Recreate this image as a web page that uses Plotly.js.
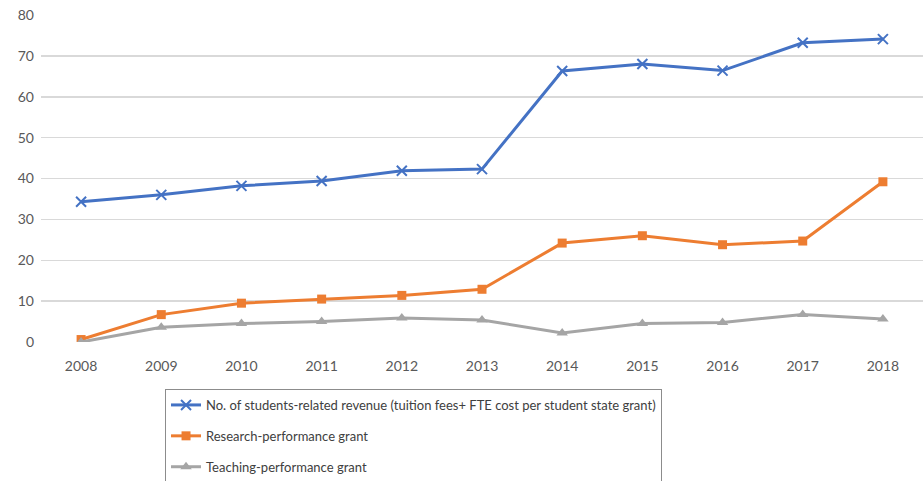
<!DOCTYPE html>
<html><head><meta charset="utf-8">
<script src="https://cdn.plot.ly/plotly-3.0.1.min.js"></script>
<style>html,body{margin:0;padding:0;background:#fff}#chart{width:924px;height:481px}</style>
</head><body><div id="chart"></div>
<script>
const years = ['2008','2009','2010','2011','2012','2013','2014','2015','2016','2017','2018'];
const studentsRevenue = [34.3, 36.0, 38.2, 39.4, 41.9, 42.3, 66.3, 68.0, 66.4, 73.2, 74.1];
const researchGrant = [0.6, 6.7, 9.5, 10.5, 11.4, 12.9, 24.2, 26.0, 23.8, 24.7, 39.2];
const teachingGrant = [0.0, 3.6, 4.5, 5.0, 5.9, 5.4, 2.2, 4.5, 4.8, 6.7, 5.6];
const seriesNames = [
  'No. of students-related revenue (tuition fees+ FTE cost per student state grant)',
  'Research-performance grant',
  'Teaching-performance grant'
];

const traces = [
  {x: years, y: studentsRevenue, name: seriesNames[0], legendgroup: 'a', type: 'scatter', mode: 'lines+markers',
   line: {color: '#4472C4', width: 3}, marker: {symbol: 'x-thin-open', size: 10, line: {color: '#4472C4', width: 2}}},
  {x: years, y: researchGrant, name: seriesNames[1], legendgroup: 'b', type: 'scatter', mode: 'lines+markers',
   line: {color: '#ED7D31', width: 3}, marker: {symbol: 'square', size: 9, color: '#ED7D31'}},
  {x: years, y: teachingGrant, name: seriesNames[2], legendgroup: 'c', type: 'scatter', mode: 'lines+markers',
   line: {color: '#A5A5A5', width: 3}, marker: {symbol: 'triangle-up', size: 10, color: '#A5A5A5'}}
];

const layout = {
  width: 924, height: 481,
  margin: {l: 41, r: 1, t: 15, b: 139, autoexpand: false},
  paper_bgcolor: '#fff', plot_bgcolor: '#fff',
  font: {family: 'Lato, "Open Sans", sans-serif', size: 14, color: '#595959'},
  showlegend: true,
  xaxis: {type: 'category', range: [-0.5, 10.5], showgrid: false, zeroline: false, showline: false, ticks: '',
          tickfont: {size: 14, color: '#595959'}, ticklabelstandoff: 14},
  yaxis: {range: [0, 80], dtick: 10, showgrid: true, gridcolor: '#d9d9d9', gridwidth: 1.5,
          zeroline: false, showline: false, ticks: '', tickfont: {size: 14, color: '#595959'},
          ticklabelstandoff: 6},
  legend: {x: 0.1786, y: 0.1913, xref: 'container', yref: 'container', xanchor: 'left', yanchor: 'top', orientation: 'v',
           bordercolor: '#8c8c8c', borderwidth: 1, bgcolor: '#fff',
           tracegroupgap: 11, traceorder: 'grouped',
           font: {size: 13, color: '#404040'}}
};

Plotly.newPlot('chart', traces, layout, {displayModeBar: false, staticPlot: true});
</script>
</body></html>
